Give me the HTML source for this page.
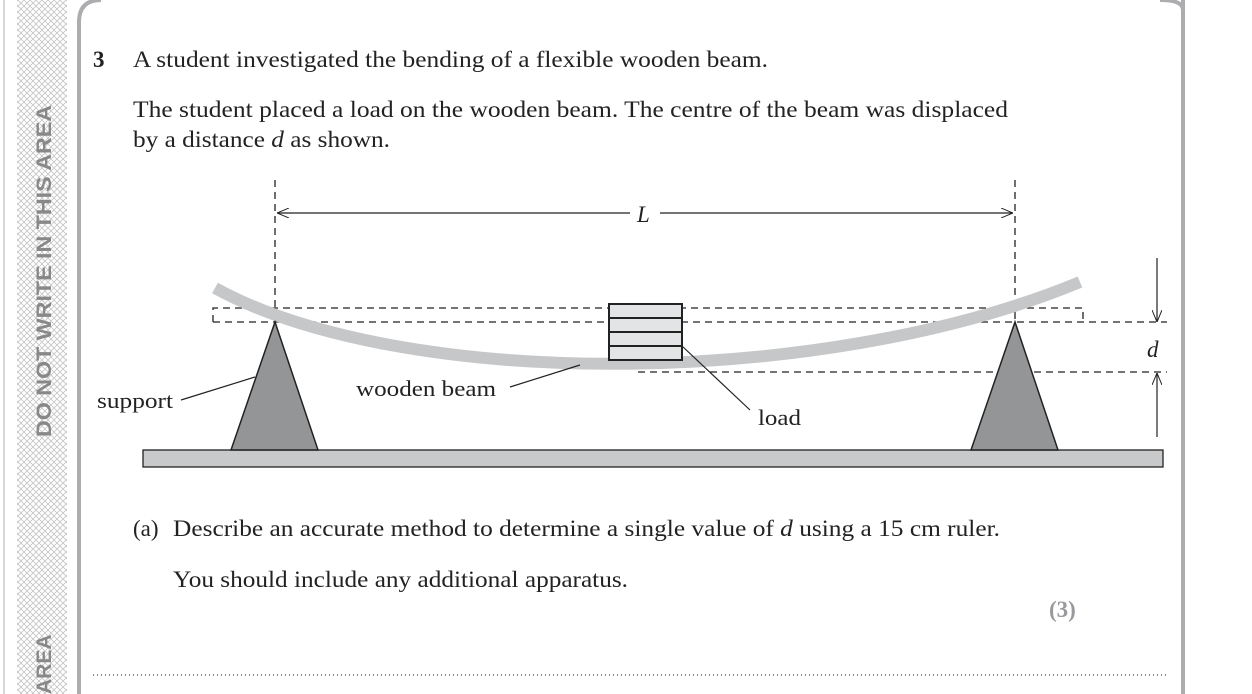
<!DOCTYPE html>
<html><head><meta charset="utf-8"><style>
html,body{margin:0;padding:0;background:#fff;width:1252px;height:694px;overflow:hidden}
svg text{font-family:"Liberation Serif",serif}
</style></head><body>
<svg width="1252" height="694" viewBox="0 0 1252 694" xmlns="http://www.w3.org/2000/svg">
<defs>
<pattern id="hatch" width="6" height="6" patternUnits="userSpaceOnUse">
<path d="M0,0 L6,6 M6,0 L0,6" stroke="#c4c4c4" stroke-width="0.8" fill="none"/>
</pattern>
<marker id="ah" viewBox="0 0 12 10" refX="12" refY="5" markerWidth="12" markerHeight="10" orient="auto" markerUnits="userSpaceOnUse">
<path d="M0,0 L12,5 L0,10" fill="none" stroke="#222" stroke-width="1"/>
</marker>
</defs>
<rect x="3" y="0" width="2" height="694" fill="#d8d8d8"/>
<rect x="17" y="0" width="50" height="694" fill="url(#hatch)"/>
<text transform="translate(51,437) rotate(-90)" style="font-family:'Liberation Sans',sans-serif" font-weight="bold" font-size="21" fill="#888" textLength="332" lengthAdjust="spacingAndGlyphs">DO NOT WRITE IN THIS AREA</text>
<text transform="translate(51,694) rotate(-90)" style="font-family:'Liberation Sans',sans-serif" font-weight="bold" font-size="21" fill="#888">AREA</text>
<path d="M79,694 L79,22 Q79,0 101,0" fill="none" stroke="#adadb0" stroke-width="4"/>
<path d="M1183,694 L1183,0" stroke="#adadb0" stroke-width="4"/>
<path d="M1160,0 Q1183,0 1183,10" fill="none" stroke="#adadb0" stroke-width="4"/>
<text x="93" y="67" font-size="23" font-weight="bold" fill="#222">3</text>
<text x="133" y="67" font-size="23" fill="#222" textLength="635" lengthAdjust="spacingAndGlyphs">A student investigated the bending of a flexible wooden beam.</text>
<text x="133" y="117" font-size="23" fill="#222" textLength="875" lengthAdjust="spacingAndGlyphs">The student placed a load on the wooden beam. The centre of the beam was displaced</text>
<text x="133" y="147" font-size="23" fill="#222" textLength="257" lengthAdjust="spacingAndGlyphs">by a distance <tspan font-style="italic">d</tspan> as shown.</text>
<g stroke="#222" stroke-width="1.3" fill="none" stroke-dasharray="7,5">
<path d="M275,180 V322"/><path d="M1015,180 V322"/>
<path d="M213,322 V308 H1083 V322"/>
<path d="M213,322 H1167"/>
<path d="M638,372 H1167"/>
</g>
<path d="M215,288 C400,390 820,390 1080,282" stroke="#c6c7c9" stroke-width="12" fill="none"/>
<g fill="#e3e4e6" stroke="#222" stroke-width="2">
<rect x="609" y="304" width="73" height="14"/><rect x="609" y="318" width="73" height="14"/>
<rect x="609" y="332" width="73" height="14"/><rect x="609" y="346" width="73" height="14"/>
</g>
<rect x="143" y="450" width="1020" height="17" fill="#c8c9cb" stroke="#222" stroke-width="1.3"/>
<path d="M275,322 L318,450 L231,450 Z" fill="#949597" stroke="#222" stroke-width="1.5"/>
<path d="M1015,322 L1058,450 L971,450 Z" fill="#949597" stroke="#222" stroke-width="1.5"/>
<g stroke="#222" stroke-width="1.2">
<path d="M630,213 H277" marker-end="url(#ah)"/>
<path d="M660,213 H1013" marker-end="url(#ah)"/>
<path d="M1157,258 V322" marker-end="url(#ah)"/>
<path d="M1157,437 V373" marker-end="url(#ah)"/>
<path d="M181,400 L255,377"/>
<path d="M510,387 L580,365"/>
<path d="M682,346 L750,410"/>
</g>
<text x="637" y="222" font-size="23" font-style="italic" fill="#222">L</text>
<text x="1147" y="357" font-size="23" font-style="italic" fill="#222">d</text>
<text x="97" y="408" font-size="22" fill="#222" textLength="76" lengthAdjust="spacingAndGlyphs">support</text>
<text x="356" y="396" font-size="22" fill="#222" textLength="140" lengthAdjust="spacingAndGlyphs">wooden beam</text>
<text x="758" y="425" font-size="22" fill="#222" textLength="43" lengthAdjust="spacingAndGlyphs">load</text>
<text x="133" y="536" font-size="23" fill="#222">(a)</text>
<text x="173" y="536" font-size="23" fill="#222" textLength="827" lengthAdjust="spacingAndGlyphs">Describe an accurate method to determine a single value of <tspan font-style="italic">d</tspan> using a 15 cm ruler.</text>
<text x="173" y="587" font-size="23" fill="#222" textLength="455" lengthAdjust="spacingAndGlyphs">You should include any additional apparatus.</text>
<text x="1049" y="617" font-size="23" font-weight="bold" fill="#9a9a9e">(3)</text>
<path d="M93,675 H1166" stroke="#444" stroke-width="1.2" stroke-dasharray="1,3"/>
</svg>
</body></html>
